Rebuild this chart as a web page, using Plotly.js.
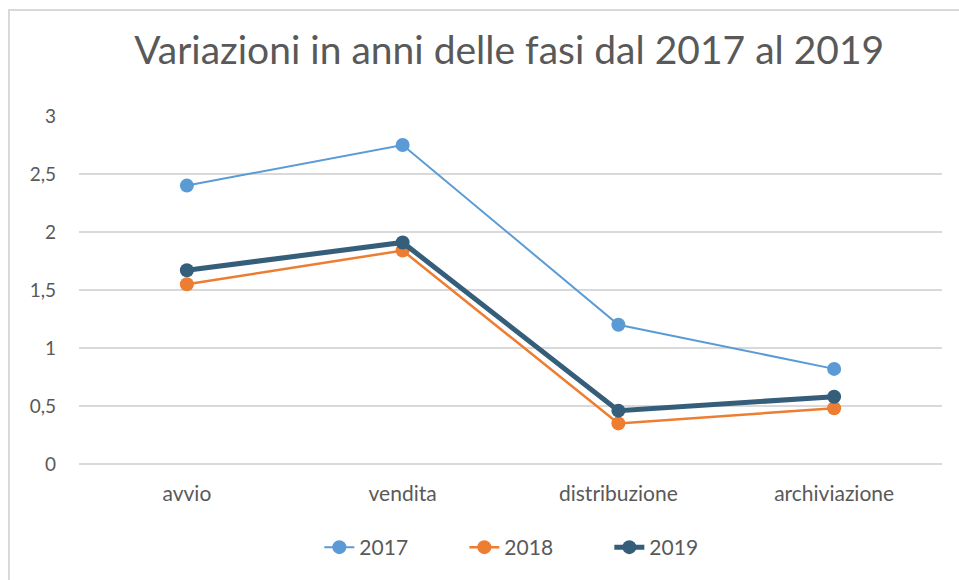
<!DOCTYPE html>
<html>
<head>
<meta charset="utf-8">
<script src="https://cdn.plot.ly/plotly-3.0.1.min.js"></script>
<style>
  html, body { margin: 0; padding: 0; background: #fff; }
  #wrap { position: absolute; left: 0; top: 0; width: 959px; height: 580px; overflow: hidden; }
  #frame { position: absolute; left: 8px; top: 9px; width: 1000px; height: 700px; border: 2px solid #d9d9d9; box-sizing: border-box; }
  #chart { position: absolute; left: 0; top: 0; width: 959px; height: 580px; }
</style>
</head>
<body>
<div id="wrap">
  <div id="frame"></div>
  <div id="chart"></div>
</div>
<script>
const categories = ["avvio", "vendita", "distribuzione", "archiviazione"];
const seriesNames = ["2017", "2018", "2019"];
const values2017 = [2.4, 2.75, 1.2, 0.82];
const values2018 = [1.55, 1.84, 0.35, 0.48];
const values2019 = [1.67, 1.91, 0.46, 0.58];
const yTicks = [0, 0.5, 1, 1.5, 2, 2.5, 3];

const FONT = "Lato, 'Open Sans', sans-serif";
const colors = ["#5b9bd5", "#ed7d31", "#355e7b"];
const widths = [2, 2.5, 5];
const allValues = [values2017, values2018, values2019];

const traces = seriesNames.map((name, i) => ({
  type: "scatter",
  mode: "lines+markers",
  name: name,
  x: categories,
  y: allValues[i],
  line: { color: colors[i], width: widths[i] },
  marker: { color: colors[i], size: 14 },
  hoverinfo: "skip"
}));

const layout = {
  width: 959,
  height: 580,
  paper_bgcolor: "rgba(0,0,0,0)",
  plot_bgcolor: "rgba(0,0,0,0)",
  separators: ",.",
  margin: { l: 79, r: 17, t: 116, b: 116 },
  font: { family: FONT, color: "#595959", size: 19 },
  title: {
    text: "Variazioni in anni delle fasi dal 2017 al 2019",
    font: { family: FONT, size: 39, color: "#595959" },
    x: 0.531, xanchor: "center",
    y: 0.913, yanchor: "middle", yref: "container"
  },
  xaxis: {
    type: "category",
    range: [-0.5, 3.5],
    showgrid: false,
    zeroline: false,
    showline: false,
    ticks: "",
    ticklabelstandoff: 15,
    tickfont: { family: FONT, size: 21, color: "#595959" }
  },
  yaxis: {
    range: [0, 3],
    tickvals: yTicks,
    ticktext: yTicks.map(v => String(v).replace(".", ",")),
    showgrid: true,
    gridcolor: "#d9d9d9",
    gridwidth: 1.5,
    zeroline: true,
    zerolinecolor: "#d9d9d9",
    zerolinewidth: 1.5,
    showline: false,
    ticks: "",
    ticklabelstandoff: 22,
    tickfont: { family: FONT, size: 19, color: "#595959" }
  },
  legend: {
    orientation: "h",
    x: 0.2785, xanchor: "left",
    y: -0.24, yanchor: "middle",
    font: { family: FONT, size: 21, color: "#595959" },
    entrywidth: 100,
    entrywidthmode: "pixels",
    traceorder: "normal"
  },
  showlegend: true
};

Plotly.newPlot("chart", traces, layout, { staticPlot: true, displayModeBar: false });
</script>
</body>
</html>
